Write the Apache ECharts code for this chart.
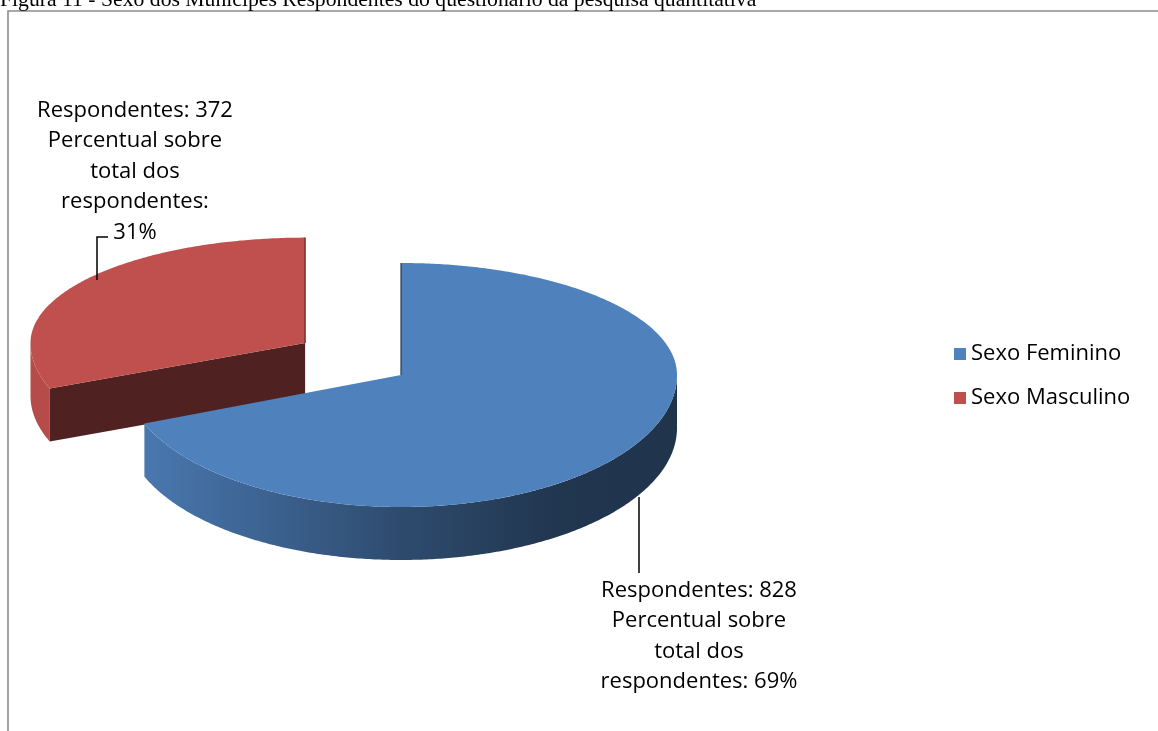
<!DOCTYPE html>
<html>
<head>
<meta charset="utf-8">
<script src="https://cdn.jsdelivr.net/npm/echarts@6/dist/echarts.min.js"></script>
<style>
  html, body { margin: 0; padding: 0; background: #ffffff; }
  #chart { width: 1158px; height: 731px; }
</style>
</head>
<body>
<div id="chart"></div>
<script>
// Survey respondents by sex
const categories = ['Sexo Feminino', 'Sexo Masculino'];
const respondents = [828, 372];
const sliceColors = ['#4F81BD', '#C0504D'];
const captionText = 'Figura 11 - Sexo dos Munícipes Respondentes do questionário da pesquisa quantitativa';

// 3D pie geometry (screen pixels)
const CX = 401, CY = 375;            // apex of the top face
const RX = 276;                      // horizontal radius
const RY_BACK = 112, RY_FRONT = 132; // vertical radii (perspective: front looks bigger)
const DEPTH = 53;                    // thickness of the disc
const EXPLODE = [0, 0.42];           // radial offset of each slice, fraction of the radius
const EXPLODE_RY = 136;              // vertical reach of the explode offset
const SLICE_SCALE = [[1, 1], [0.995, 0.94]]; // pulled-out slice sits further back
const LABEL_FONT = '"Open Sans", "Noto Sans", sans-serif';
const LABEL_SIZE = 22;

// label boxes and leader lines for each slice
const labelLayout = [
  { x: 699, y: 575, leader: [[639, 497], [639, 573]], breakPct: false },
  { x: 135, y: 95, leader: [[97, 280], [97, 237], [108, 237]], breakPct: true }
];

const total = respondents.reduce((a, b) => a + b, 0);

function shade(hex, k) {
  const n = parseInt(hex.slice(1), 16);
  const r = Math.round(((n >> 16) & 255) * k);
  const g = Math.round(((n >> 8) & 255) * k);
  const b = Math.round((n & 255) * k);
  return 'rgb(' + r + ',' + g + ',' + b + ')';
}

// angle measured clockwise from 12 o'clock
function makePt(cx, cy, sx, sy) {
  return function (a, h) {
    const s = Math.sin(a), c = Math.cos(a);
    return [cx + RX * sx * s, cy - (c > 0 ? RY_BACK : RY_FRONT) * sy * c + (h || 0)];
  };
}

function arc(pt, a0, a1, h) {
  const pts = [];
  const n = Math.max(2, Math.ceil(Math.abs(a1 - a0) / 0.01));
  for (let i = 0; i <= n; i++) pts.push(pt(a0 + (a1 - a0) * i / n, h));
  return pts;
}

function makeRenderItem(idx) {
  return function (params, api) {
    const value = api.value(0);
    let before = 0;
    for (let i = 0; i < idx; i++) before += respondents[i];
    const a0 = before / total * Math.PI * 2;
    const a1 = a0 + value / total * Math.PI * 2;
    const mid = (a0 + a1) / 2;
    const e = EXPLODE[idx];
    const cx = CX + e * RX * Math.sin(mid);
    const cy = CY - e * EXPLODE_RY * Math.cos(mid);
    const pt = makePt(cx, cy, SLICE_SCALE[idx][0], SLICE_SCALE[idx][1]);
    const color = sliceColors[idx];
    const children = [];

    // outer wall: only the front half (pi/2 .. 3pi/2) faces the viewer
    const w0 = Math.max(a0, Math.PI / 2), w1 = Math.min(a1, Math.PI * 1.5);
    if (w1 > w0) {
      const top = arc(pt, w0, w1, 0);
      const bottom = arc(pt, w0, w1, DEPTH).reverse();
      children.push({
        type: 'polygon',
        shape: { points: top.concat(bottom) },
        style: {
          fill: new echarts.graphic.LinearGradient(CX - RX, 0, CX + RX, 0, [
            { offset: 0, color: shade(color, 0.95) },
            { offset: 0.5, color: shade(color, 0.58) },
            { offset: 0.78, color: shade(color, 0.42) },
            { offset: 1, color: shade(color, 0.40) }
          ], true)
        }
      });
    }

    // radial cut faces that face the viewer
    const cutFace = (a) => {
      const p = pt(a, 0);
      children.push({
        type: 'polygon',
        shape: { points: [[cx, cy], p, [p[0], p[1] + DEPTH], [cx, cy + DEPTH]] },
        style: { fill: shade(color, 0.41) }
      });
    };
    if (Math.sin(a0) < -1e-6) cutFace(a0);
    if (Math.sin(a1) > 1e-6) cutFace(a1);

    // top face
    children.push({
      type: 'polygon',
      shape: { points: [[cx, cy]].concat(arc(pt, a0, a1, 0)) },
      style: { fill: color }
    });

    // edge-on cut seen at the back (12 o'clock)
    [a0, a1].forEach((a) => {
      if (Math.abs(Math.sin(a)) < 1e-6 && Math.cos(a) > 0) {
        const p = pt(a, 0);
        children.push({
          type: 'line',
          shape: { x1: cx, y1: cy, x2: p[0], y2: p[1] },
          style: { stroke: shade(color, 0.45), lineWidth: 1.2 }
        });
      }
    });

    // data label with leader line
    const lay = labelLayout[idx];
    const pct = Math.round(value / total * 100) + '%';
    const text = 'Respondentes: ' + value + '\nPercentual sobre\ntotal dos\n' +
      (lay.breakPct ? 'respondentes:\n' + pct : 'respondentes: ' + pct);
    children.push({
      type: 'polyline',
      shape: { points: lay.leader },
      style: { stroke: '#000', lineWidth: 1.5, fill: null }
    });
    children.push({
      type: 'text',
      x: lay.x, y: lay.y,
      style: {
        text: text, fill: '#000', font: LABEL_SIZE + 'px ' + LABEL_FONT,
        align: 'center', verticalAlign: 'top', lineHeight: 30.5
      }
    });

    return { type: 'group', children: children };
  };
}

const chart = echarts.init(document.getElementById('chart'), null, { renderer: 'canvas' });

chart.setOption({
  backgroundColor: '#ffffff',
  animation: false,
  legend: {
    data: categories,
    orient: 'vertical',
    left: 954, top: 343,
    itemWidth: 12, itemHeight: 12, itemGap: 22,
    icon: 'rect',
    padding: 0,
    textStyle: { fontSize: LABEL_SIZE, fontFamily: LABEL_FONT, color: '#000' }
  },
  graphic: [
    {
      type: 'rect',
      shape: { x: 8, y: 11, width: 1300, height: 900 },
      style: { fill: null, stroke: '#8c8c8c', lineWidth: 1.6 },
      silent: true
    },
    {
      type: 'text',
      x: 0, y: 0,
      style: {
        text: captionText, fill: '#000',
        font: '21.7px "Liberation Serif", "DejaVu Serif", serif',
        align: 'left', verticalAlign: 'middle'
      },
      silent: true
    }
  ],
  series: categories.map((name, i) => ({
    type: 'custom',
    name: name,
    coordinateSystem: 'none',
    z: i === 0 ? 3 : 2,
    itemStyle: { color: sliceColors[i] },
    renderItem: makeRenderItem(i),
    data: [[respondents[i]]]
  }))
});
</script>
</body>
</html>
